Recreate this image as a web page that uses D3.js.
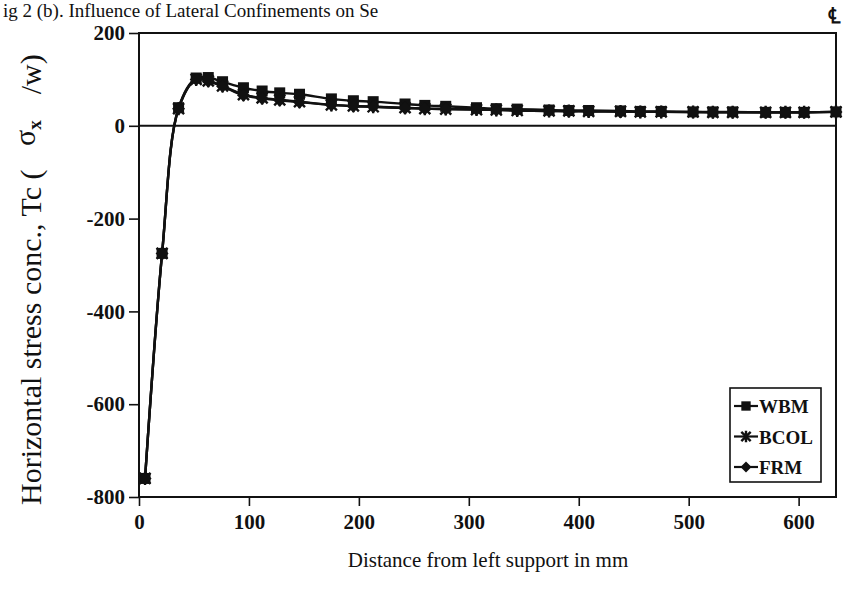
<!DOCTYPE html>
<html>
<head>
<meta charset="utf-8">
<script src="https://cdn.jsdelivr.net/npm/d3@7"></script>
<style>
  html, body { margin: 0; padding: 0; background: #fff; }
  svg { display: block; }
  text { font-family: "Liberation Serif", "Times New Roman", serif; fill: #111; }
</style>
</head>
<body>
<svg id="chart" width="846" height="589"></svg>
<script>
// Distance along the beam (mm) at which the stress concentration was computed
const distance = [5.5, 21, 36, 52, 63, 76, 95, 112, 128, 146, 175, 195, 213, 242, 260, 279,
                  307, 325, 344, 373, 391, 409, 438, 456, 475, 504, 522, 540, 570, 588, 605, 634];

// Horizontal stress concentration Tc (sigma_x / w) for each lateral confinement model
const wbm  = [-760, -275, 39, 103, 104, 95, 82, 75, 71, 68, 58, 54, 52, 47, 44, 42,
              39, 37, 36, 34, 33, 33, 32, 31, 31, 30, 30, 30, 29, 29, 29, 30];
const bcol = [-760, -275, 37, 100, 97, 86, 67, 60, 56, 52, 45, 43, 41, 39, 37, 36,
              35, 34, 33, 32, 32, 31, 31, 30, 30, 30, 29, 29, 29, 29, 29, 30];
const frm  = [-760, -275, 37, 100, 96, 85, 66, 59, 55, 51, 45, 42, 41, 38, 37, 36,
              35, 34, 33, 32, 31, 31, 30, 30, 30, 29, 29, 29, 29, 29, 29, 30];

const seriesNames = ["WBM", "BCOL", "FRM"];
const xTicks = [0, 100, 200, 300, 400, 500, 600];
const yTicks = [-800, -600, -400, -200, 0, 200];

const svg = d3.select("#chart");
const plot = { left: 139, top: 33, right: 836, bottom: 497 };

const x = d3.scaleLinear().domain([0, 634]).range([plot.left, plot.right]);
const y = d3.scaleLinear().domain([-800, 200]).range([plot.bottom, plot.top]);

// Heading along the top edge
svg.append("text")
  .attr("x", 3).attr("y", 17)
  .attr("font-size", 19)
  .text("ig 2 (b). Influence of Lateral Confinements on Se");

// Centre-line mark at the right end of the span
svg.append("text")
  .attr("x", 834).attr("y", 23)
  .attr("text-anchor", "middle")
  .attr("font-size", 22).attr("font-weight", "bold")
  .style("font-family", "DejaVu Serif, serif")
  .text("\u2104");

// Axes (plain hyphen for negative numbers)
const fmt = d => String(d);
const xAxis = d3.axisBottom(x).tickValues(xTicks).tickFormat(fmt)
  .tickSize(9).tickSizeOuter(0).tickPadding(8);
const yAxis = d3.axisLeft(y).tickValues(yTicks).tickFormat(fmt)
  .tickSize(10).tickSizeOuter(0).tickPadding(4);

const gx = svg.append("g").attr("transform", `translate(0,${plot.bottom})`).call(xAxis);
const gy = svg.append("g").attr("transform", `translate(${plot.left},0)`).call(yAxis);
[gx, gy].forEach(g => {
  g.select(".domain").remove();
  g.selectAll(".tick line").attr("stroke", "#111").attr("stroke-width", 1.6);
  g.selectAll(".tick text")
    .attr("font-size", 21).attr("font-weight", "bold")
    .style("font-family", "'Liberation Serif', serif").attr("fill", "#111");
});

// Plot frame
svg.append("rect")
  .attr("x", plot.left).attr("y", plot.top)
  .attr("width", plot.right - plot.left).attr("height", plot.bottom - plot.top)
  .attr("fill", "none").attr("stroke", "#111").attr("stroke-width", 2);

// Zero line
svg.append("line")
  .attr("x1", plot.left).attr("x2", plot.right)
  .attr("y1", y(0)).attr("y2", y(0))
  .attr("stroke", "#111").attr("stroke-width", 2);

// Series lines
const line = d3.line()
  .x((d, i) => x(distance[i]))
  .y(d => y(d))
  .curve(d3.curveCatmullRom.alpha(0.5));

const allSeries = [wbm, bcol, frm];
allSeries.forEach(vals => {
  svg.append("path")
    .attr("d", line(vals))
    .attr("fill", "none").attr("stroke", "#111").attr("stroke-width", 2.4);
});

// Marker shapes
function drawMarker(g, kind, cx, cy, s = 1) {
  if (kind === "WBM") {
    const h = 5.5 * s;
    g.append("rect").attr("x", cx - h).attr("y", cy - h).attr("width", 2 * h).attr("height", 2 * h)
      .attr("fill", "#111");
  } else if (kind === "BCOL") {
    const r = 5.5 * s;
    g.append("path")
      .attr("d", `M${cx - r},${cy - r}L${cx + r},${cy + r}M${cx - r},${cy + r}L${cx + r},${cy - r}M${cx},${cy - r - 1}L${cx},${cy + r + 1}`)
      .attr("stroke", "#111").attr("stroke-width", 2.4).attr("fill", "none");
  } else {
    const r = 6.5 * s;
    g.append("path")
      .attr("d", `M${cx},${cy - r}L${cx + r},${cy}L${cx},${cy + r}L${cx - r},${cy}Z`)
      .attr("fill", "#111");
  }
}

const markers = svg.append("g");
allSeries.forEach((vals, si) => {
  vals.forEach((v, i) => drawMarker(markers, seriesNames[si], x(distance[i]), y(v)));
});

// Legend
const legend = svg.append("g");
legend.append("rect")
  .attr("x", 730).attr("y", 388).attr("width", 91).attr("height", 94)
  .attr("fill", "#fff").attr("stroke", "#111").attr("stroke-width", 1.6);
seriesNames.forEach((name, i) => {
  const ly = 406 + i * 30.5;
  legend.append("line")
    .attr("x1", 734).attr("x2", 758).attr("y1", ly).attr("y2", ly)
    .attr("stroke", "#111").attr("stroke-width", 2.2);
  drawMarker(legend, name, 746, ly, 0.85);
  legend.append("text")
    .attr("x", 759).attr("y", ly + 7)
    .attr("font-size", 19).attr("font-weight", "bold")
    .text(name);
});

// Axis titles
svg.append("text")
  .attr("x", 488).attr("y", 567)
  .attr("text-anchor", "middle")
  .attr("font-size", 21)
  .text("Distance from left support in mm");

const yTitle = svg.append("text")
  .attr("transform", "translate(41,505) rotate(-90)")
  .attr("font-size", 30);
yTitle.append("tspan").text("Horizontal stress conc., Tc ( ");
yTitle.append("tspan").attr("dx", 16).attr("dy", -6).attr("font-size", 30).text("\u03c3");
yTitle.append("tspan").attr("dy", 6).attr("font-size", 19).attr("font-weight", "bold").text("x");
yTitle.append("tspan").attr("dx", 26).text("/w)");
</script>
</body>
</html>
